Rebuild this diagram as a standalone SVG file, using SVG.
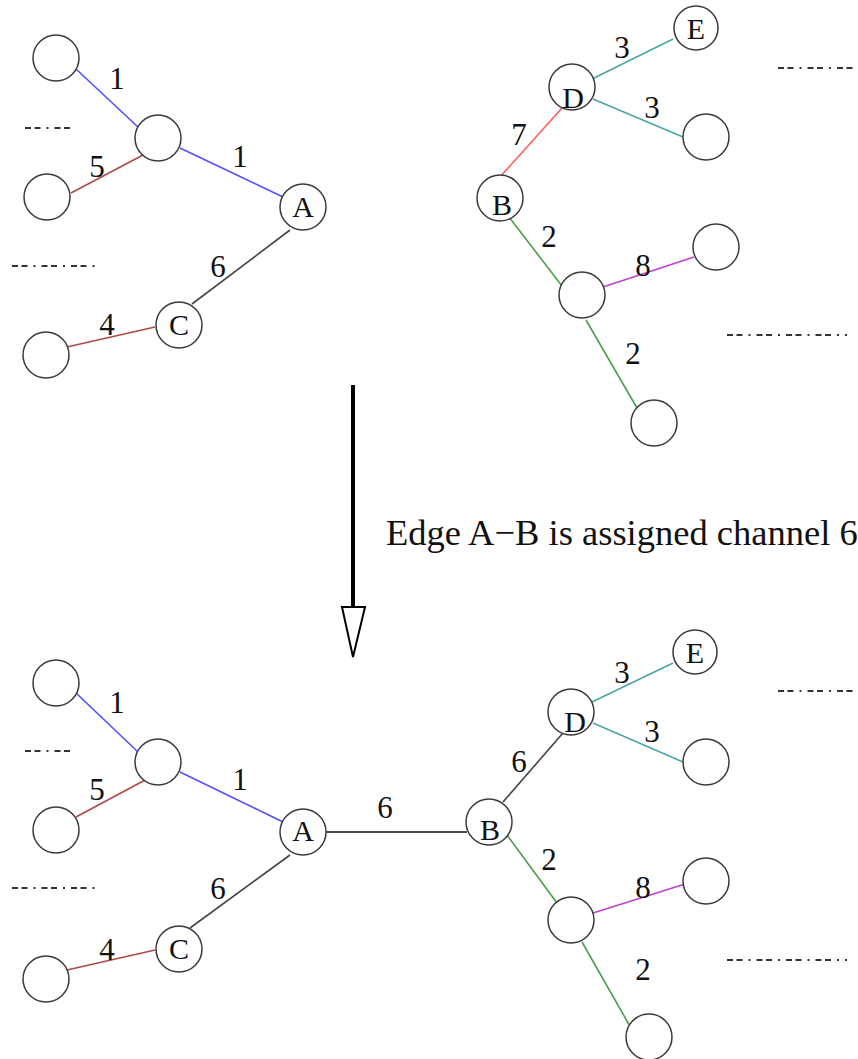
<svg xmlns="http://www.w3.org/2000/svg" width="858" height="1059" viewBox="0 0 858 1059">
<style>
.n{fill:#fff;stroke:#3a3a3a;stroke-width:1.5}
.t{font-family:"Liberation Serif","Times New Roman",serif;font-size:30px;fill:#111;text-anchor:middle}
.d{font-size:31px}
.e{fill:none;stroke-width:1.6}
.blue{stroke:#5050ff}
.brown{stroke:#b04848}
.gray{stroke:#444}
.teal{stroke:#4aa6a6}
.red{stroke:#ff5a5a}
.green{stroke:#4c9e4c}
.mag{stroke:#c040d0}
.dash{fill:none;stroke:#333;stroke-width:2;stroke-dasharray:6 3.5 6 6 2 6}
</style>
<rect width="858" height="1059" fill="#fff"/>
<g id="connectors">
<line class="e blue" x1="76" y1="69" x2="139" y2="128"/>
<line class="e blue" x1="180" y1="148" x2="283" y2="197"/>
<line class="e brown" x1="71" y1="193" x2="143" y2="155"/>
<line class="e gray" x1="290" y1="230" x2="192" y2="304"/>
<line class="e brown" x1="155" y1="327" x2="67" y2="347"/>
<line class="e teal" x1="592" y1="79" x2="673" y2="39"/>
<line class="e teal" x1="593" y1="99" x2="683" y2="137"/>
<line class="e red" x1="562" y1="108" x2="500" y2="177"/>
<line class="e green" x1="509" y1="217" x2="562" y2="286"/>
<line class="e mag" x1="603" y1="287" x2="694" y2="257"/>
<line class="e green" x1="586" y1="320" x2="637" y2="408"/>
<line class="e blue" x1="76" y1="693" x2="138" y2="752"/>
<line class="e blue" x1="180" y1="772" x2="283" y2="822"/>
<line class="e brown" x1="76" y1="817" x2="147" y2="779"/>
<line class="e gray" x1="290" y1="855" x2="190" y2="928"/>
<line class="e brown" x1="155" y1="950" x2="67" y2="970"/>
<line class="e" stroke="#111" stroke-width="2" x1="326" y1="832" x2="467" y2="832"/>
<line class="e teal" x1="592" y1="702" x2="673" y2="663"/>
<line class="e teal" x1="593" y1="723" x2="683" y2="762"/>
<line class="e gray" x1="563" y1="733" x2="503" y2="802"/>
<line class="e green" x1="507" y1="835" x2="557" y2="903"/>
<line class="e mag" x1="593" y1="913" x2="685" y2="884"/>
<line class="e green" x1="582" y1="942" x2="631" y2="1028"/>
<line x1="353" y1="385" x2="353" y2="607" stroke="#000" stroke-width="4"/>
<polygon points="342,607 365,607 353,657" fill="#fff" stroke="#000" stroke-width="2"/>
</g>
<g id="top-n1"><circle class="n" cx="56" cy="58" r="23"/></g>
<g id="top-n2"><circle class="n" cx="158" cy="138" r="23"/></g>
<g id="top-n3"><circle class="n" cx="47" cy="197" r="23"/></g>
<g id="top-A"><circle class="n" cx="303" cy="207" r="23"/><text class="t" x="303" y="217">A</text></g>
<g id="top-C"><circle class="n" cx="179" cy="325" r="23"/><text class="t" x="179" y="335">C</text></g>
<g id="top-n4"><circle class="n" cx="46" cy="355" r="23"/></g>
<g id="top-D"><circle class="n" cx="572" cy="87" r="23"/><text class="t" x="573" y="108">D</text></g>
<g id="top-E"><circle class="n" cx="696" cy="28" r="22"/><text class="t" x="696" y="39">E</text></g>
<g id="top-n5"><circle class="n" cx="706" cy="137" r="23"/></g>
<g id="top-B"><circle class="n" cx="500" cy="198" r="23"/><text class="t" x="502" y="215">B</text></g>
<g id="top-n6"><circle class="n" cx="582" cy="295" r="23"/></g>
<g id="top-n7"><circle class="n" cx="716" cy="247" r="23"/></g>
<g id="top-n8"><circle class="n" cx="654" cy="423" r="23"/></g>
<g id="bot-n1"><circle class="n" cx="56" cy="683" r="23"/></g>
<g id="bot-n2"><circle class="n" cx="158" cy="762" r="23"/></g>
<g id="bot-n3"><circle class="n" cx="56" cy="830" r="23"/></g>
<g id="bot-A"><circle class="n" cx="303" cy="832" r="23"/><text class="t" x="303" y="841">A</text></g>
<g id="bot-C"><circle class="n" cx="179" cy="949" r="23"/><text class="t" x="179" y="959">C</text></g>
<g id="bot-n4"><circle class="n" cx="46" cy="979" r="23"/></g>
<g id="bot-D"><circle class="n" cx="571" cy="712" r="23"/><text class="t" x="575" y="732">D</text></g>
<g id="bot-E"><circle class="n" cx="695" cy="652" r="22"/><text class="t" x="695" y="663">E</text></g>
<g id="bot-n5"><circle class="n" cx="706" cy="762" r="23"/></g>
<g id="bot-B"><circle class="n" cx="489" cy="822" r="23"/><text class="t" x="490" y="840">B</text></g>
<g id="bot-n6"><circle class="n" cx="571" cy="920" r="23"/></g>
<g id="bot-n7"><circle class="n" cx="706" cy="881" r="23"/></g>
<g id="bot-n8"><circle class="n" cx="649" cy="1037" r="23"/></g>
<g id="labels">
<text class="t d" x="117" y="89">1</text>
<text class="t d" x="240" y="167">1</text>
<text class="t d" x="97" y="177">5</text>
<text class="t d" x="218" y="277">6</text>
<text class="t d" x="107" y="335">4</text>
<text class="t d" x="622" y="58">3</text>
<text class="t d" x="652" y="118">3</text>
<text class="t d" x="519" y="145">7</text>
<text class="t d" x="549" y="247">2</text>
<text class="t d" x="643" y="276">8</text>
<text class="t d" x="633" y="364">2</text>
<text class="t d" x="117" y="713">1</text>
<text class="t d" x="240" y="790">1</text>
<text class="t d" x="97" y="800">5</text>
<text class="t d" x="218" y="899">6</text>
<text class="t d" x="107" y="960">4</text>
<text class="t d" x="385" y="818">6</text>
<text class="t d" x="622" y="683">3</text>
<text class="t d" x="652" y="742">3</text>
<text class="t d" x="519" y="772">6</text>
<text class="t d" x="549" y="870">2</text>
<text class="t d" x="643" y="898">8</text>
<text class="t d" x="643" y="980">2</text>
<text class="t" x="386" y="545" style="text-anchor:start;font-size:36.5px">Edge A−B is assigned channel 6</text>
</g>
<g id="dots">
<line class="dash" x1="25" y1="128" x2="74" y2="128"/>
<line class="dash" x1="12" y1="266" x2="96" y2="266"/>
<line class="dash" x1="778" y1="68" x2="858" y2="68"/>
<line class="dash" x1="727" y1="335" x2="847" y2="335"/>
<line class="dash" x1="25" y1="751" x2="74" y2="751"/>
<line class="dash" x1="12" y1="888" x2="96" y2="888"/>
<line class="dash" x1="778" y1="691" x2="858" y2="691"/>
<line class="dash" x1="727" y1="960" x2="847" y2="960"/>
</g>
</svg>
